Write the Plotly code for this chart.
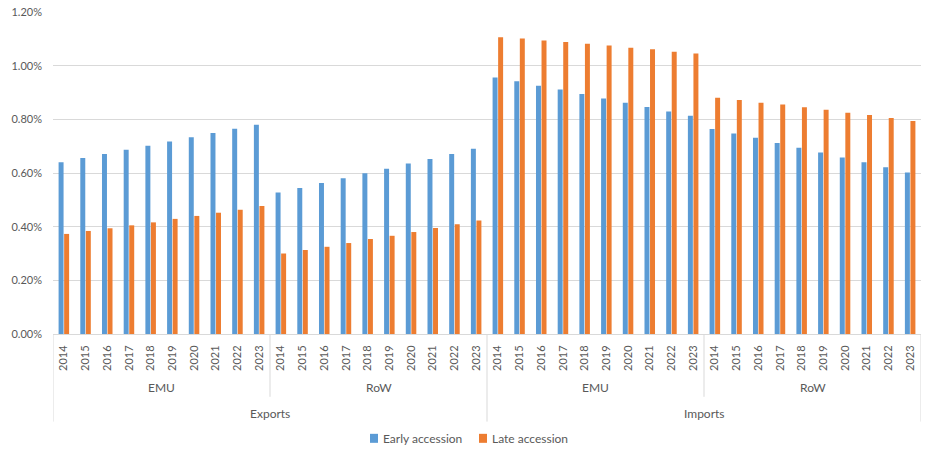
import plotly.graph_objects as go

# Category levels
years = ["2014", "2015", "2016", "2017", "2018", "2019", "2020", "2021", "2022", "2023"]
regions = ["EMU", "RoW"]
flows = ["Exports", "Imports"]

# Shares in percent, early accession scenario
exports_emu_early = [0.640, 0.656, 0.671, 0.687, 0.702, 0.717, 0.733, 0.749, 0.765, 0.780]
exports_row_early = [0.527, 0.544, 0.563, 0.580, 0.599, 0.616, 0.635, 0.652, 0.671, 0.690]
imports_emu_early = [0.956, 0.942, 0.925, 0.911, 0.894, 0.878, 0.862, 0.846, 0.829, 0.813]
imports_row_early = [0.764, 0.747, 0.731, 0.712, 0.694, 0.676, 0.658, 0.640, 0.621, 0.602]

# Shares in percent, late accession scenario
exports_emu_late = [0.373, 0.384, 0.394, 0.405, 0.416, 0.429, 0.440, 0.452, 0.463, 0.477]
exports_row_late = [0.300, 0.313, 0.325, 0.339, 0.354, 0.366, 0.380, 0.395, 0.409, 0.423]
imports_emu_late = [1.106, 1.101, 1.094, 1.088, 1.082, 1.075, 1.067, 1.061, 1.052, 1.045]
imports_row_late = [0.880, 0.872, 0.862, 0.855, 0.845, 0.836, 0.825, 0.816, 0.805, 0.794]

series_names = ["Early accession", "Late accession"]
colors = ["#5B9BD5", "#ED7D31"]

early = exports_emu_early + exports_row_early + imports_emu_early + imports_row_early
late = exports_emu_late + exports_row_late + imports_emu_late + imports_row_late
n_years = len(years)
n_cat = len(early)
x = list(range(n_cat))
tick_text = years * (len(regions) * len(flows))

FONT = "Lato"
TEXT = "#595959"
GRID = "#D9D9D9"

fig = go.Figure()
for name, vals, col in zip(series_names, [early, late], colors):
    fig.add_trace(go.Bar(x=x, y=vals, name=name, marker_color=col,
                         marker_line_width=0, showlegend=False))

fig.update_layout(
    width=925, height=451,
    margin=dict(l=53, r=4, t=12, b=117),
    paper_bgcolor="white", plot_bgcolor="white",
    barmode="group", bargap=0.49, bargroupgap=0.1,
    font=dict(family=FONT, color=TEXT, size=12),
)
fig.update_xaxes(
    range=[-0.5, n_cat - 0.5], tickmode="array", tickvals=x, ticktext=tick_text,
    tickangle=-90, tickfont=dict(size=11, color=TEXT), ticks="",
    ticklabelstandoff=6,
    showline=True, linecolor=GRID, linewidth=1, showgrid=False, zeroline=False,
)
fig.update_yaxes(
    range=[0, 1.2], dtick=0.2, tickformat=".2f", ticksuffix="%",
    tickfont=dict(size=11, color=TEXT), ticklabelstandoff=10,
    showgrid=True, gridcolor=GRID, gridwidth=1, zeroline=False, showline=False,
)

# Group separators and labels for the region and flow levels
y_region = -0.167
y_flow = -0.248
short_end = -0.195
long_end = -0.272
for k in range(len(flows) * len(regions) + 1):
    xb = k * n_years - 0.5
    end = long_end if k % len(regions) == 0 else short_end
    fig.add_shape(type="line", xref="x", yref="paper", x0=xb, x1=xb, y0=0, y1=end,
                  line=dict(color=GRID, width=1))
for fi, flow in enumerate(flows):
    for ri, reg in enumerate(regions):
        start = (fi * len(regions) + ri) * n_years
        fig.add_annotation(x=start + (n_years - 1) / 2, y=y_region, xref="x", yref="paper",
                           text=reg, showarrow=False, font=dict(size=12, color=TEXT),
                           yanchor="middle")
    start = fi * len(regions) * n_years
    fig.add_annotation(x=start + (len(regions) * n_years - 1) / 2, y=y_flow, xref="x", yref="paper",
                       text=flow, showarrow=False, font=dict(size=12, color=TEXT),
                       yanchor="middle")

# Legend drawn below the axis labels
legend_y = -0.324
legend_items = [(370, series_names[0], colors[0]), (479, series_names[1], colors[1])]
for px, name, col in legend_items:
    fig.add_shape(type="rect", xref="paper", yref="paper",
                  x0=(px - 53) / 868, x1=(px + 8 - 53) / 868,
                  y0=legend_y - 4.5 / 322, y1=legend_y + 4.5 / 322,
                  fillcolor=col, line_width=0)
    fig.add_annotation(x=(px + 11 - 53) / 868, y=legend_y, xref="paper", yref="paper",
                       text=name, showarrow=False, xanchor="left", yanchor="middle",
                       font=dict(size=12, color=TEXT))

fig.write_html("out.html")
